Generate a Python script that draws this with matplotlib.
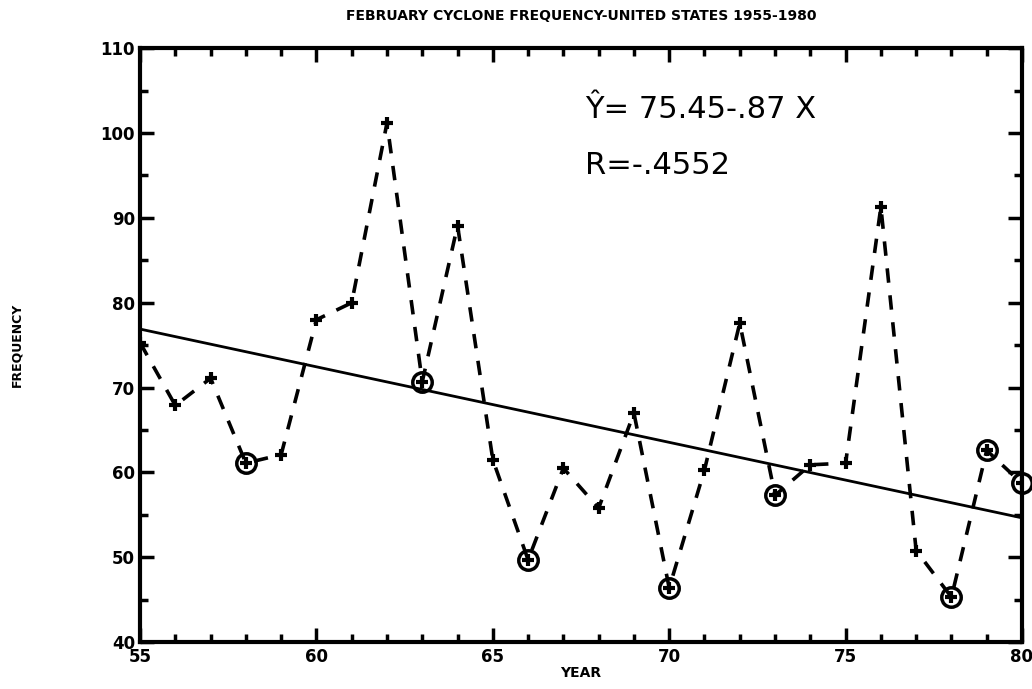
import matplotlib.pyplot as plt
import numpy as np

# 数据: 年份(两位) 与 二月气旋频数
years = [55, 56, 57, 58, 59, 60, 61, 62, 63, 64, 65, 66, 67,
         68, 69, 70, 71, 72, 73, 74, 75, 76, 77, 78, 79, 80]
freq = [75.3, 67.9, 71.1, 61.1, 62.1, 78.0, 80.0, 101.2, 70.7, 89.1, 61.5, 49.7, 60.5,
        55.8, 67.0, 46.4, 60.3, 77.6, 57.3, 60.9, 61.1, 91.3, 50.8, 45.3, 62.6, 58.7]
# 圈出的年份
circled = [58, 63, 66, 70, 73, 78, 79, 80]
# 回归线 (图上读出的端点)
fit_start = 76.9
fit_slope = -0.89

xticks = [55, 60, 65, 70, 75, 80]
xlabels = ['55', '60', '65', '70', '75', '80']
yticks = [40, 50, 60, 70, 80, 90, 100, 110]

fig = plt.figure(figsize=(10.32, 6.89), dpi=100)
ax = fig.add_axes([0.1357, 0.068, 0.8546, 0.862])

ax.plot(years, freq, color='black', lw=2.6, ls=(0, (4, 3.5)))
ax.plot(years, freq, ls='none', marker='+', ms=9, mew=3, color='black')
cy = [freq[years.index(y)] for y in circled]
ax.plot(circled, cy, ls='none', marker='o', ms=14, mfc='none', mec='black', mew=2.5,
        clip_on=False)

fx = np.array([55, 80])
ax.plot(fx, fit_start + fit_slope * (fx - 55), color='black', lw=2)

ax.set_xlim(55, 80)
ax.set_ylim(40, 110)
ax.set_xticks(xticks, xlabels)
ax.set_xticks(np.arange(55, 81, 1), minor=True)
ax.set_yticks(yticks)
ax.set_yticks(np.arange(40, 111, 5), minor=True)
ax.tick_params(which='both', direction='in', top=True, right=True, width=2.5)
ax.tick_params(which='major', length=10, labelsize=12)
ax.tick_params(axis='x', which='major', pad=4)
ax.tick_params(which='minor', length=6)
for lab in ax.get_xticklabels() + ax.get_yticklabels():
    lab.set_fontweight('heavy')
for s in ax.spines.values():
    s.set_linewidth(3)

ax.set_title('FEBRUARY CYCLONE FREQUENCY-UNITED STATES 1955-1980',
             fontsize=10, fontweight='heavy', pad=20)
ax.set_xlabel('YEAR', fontsize=10, fontweight='heavy', labelpad=0)
fig.text(0.016, 0.5, 'FREQUENCY', rotation=90, va='center', ha='center',
         fontsize=9, fontweight='heavy')

ax.text(0.505, 0.896, 'Ŷ= 75.45-.87 X', transform=ax.transAxes, fontsize=22,
        va='center', ha='left')
ax.text(0.505, 0.803, 'R=-.4552', transform=ax.transAxes, fontsize=22,
        va='center', ha='left')

fig.savefig('out.png', dpi=100)
